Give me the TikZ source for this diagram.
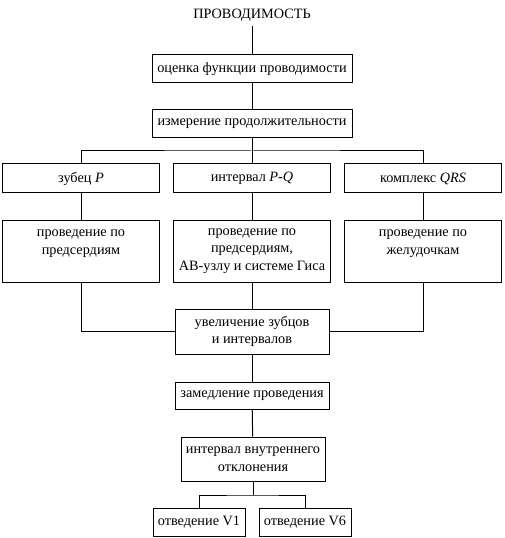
\documentclass[tikz,border=0pt]{standalone}
\usepackage{fontspec}
\setmainfont{Liberation Serif}
\usepackage{tikz}

\tikzset{
  blok/.style={draw,line width=0.75pt,inner sep=2pt,align=center,
    font=\fontsize{10.7}{13.1}\selectfont},
  liniya/.style={line width=0.75pt}
}

\begin{document}
\begin{tikzpicture}[x=0.75pt,y=-0.75pt]
\useasboundingbox (0,0) rectangle (504,538);
\node[font=\fontsize{10.7}{13.1}\selectfont] (prov) at (252,15) {ПРОВОДИМОСТЬ};
\node[blok,minimum width=150pt,minimum height=21pt] (ocenka) at (252,69) {оценка функции проводимости};
\node[blok,minimum width=150pt,minimum height=21pt] (izmer) at (252,124) {измерение продолжительности};
\node[blok,minimum width=117.75pt,minimum height=21.75pt] (zubP) at (81,178.5) {зубец \textit{P}};
\node[blok,minimum width=117.75pt,minimum height=21.75pt] (intPQ) at (252,178.5) {интервал \textit{P-Q}};
\node[blok,minimum width=117.75pt,minimum height=21.75pt] (komQRS) at (423,178.5) {комплекс \textit{QRS}};
\node[blok,minimum width=117.75pt,minimum height=46.5pt] (provP) at (81,251) {проведение по\\предсердиям\\\mbox{}};
\node[blok,minimum width=117.75pt,minimum height=46.5pt] (provPQ) at (252,251) {проведение по\\предсердиям,\\АВ-узлу и системе Гиса};
\node[blok,minimum width=117.75pt,minimum height=46.5pt] (provQRS) at (423,251) {проведение по\\желудочкам\\\mbox{}};
\node[blok,minimum width=115.5pt,minimum height=33.75pt] (uvel) at (252,331.5) {увеличение зубцов\\и интервалов};
\node[blok,minimum width=115.5pt,minimum height=20.25pt] (zamed) at (252,395.5) {замедление проведения};
\node[blok,minimum width=108pt,minimum height=33pt] (intvn) at (253,459) {интервал внутреннего\\отклонения};
\node[blok,minimum width=69pt,minimum height=21pt] (v1) at (199,522) {отведение V1};
\node[blok,minimum width=69pt,minimum height=21pt] (v6) at (305,522) {отведение V6};
\coordinate (razv1) at (252,151);
\coordinate (razv2) at (253,495);
% soedineniya
\draw[liniya] (prov) -- (ocenka);
\draw[liniya] (ocenka) -- (izmer);
\draw[liniya] (izmer) -- (razv1);
\draw[liniya] (zubP.north) |- (razv1) -| (komQRS.north);
\draw[liniya] (razv1) -- (intPQ);
\draw[liniya] (zubP) -- (provP);
\draw[liniya] (intPQ) -- (provPQ);
\draw[liniya] (komQRS) -- (provQRS);
\draw[liniya] (provP.south) |- (uvel.west);
\draw[liniya] (provQRS.south) |- (uvel.east);
\draw[liniya] (provPQ) -- (uvel);
\draw[liniya] (uvel) -- (zamed);
\draw[liniya] (zamed) -- (intvn);
\draw[liniya] (intvn) -- (razv2);
\draw[liniya] (v1.north) |- (razv2) -| (v6.north);
\end{tikzpicture}
\end{document}
